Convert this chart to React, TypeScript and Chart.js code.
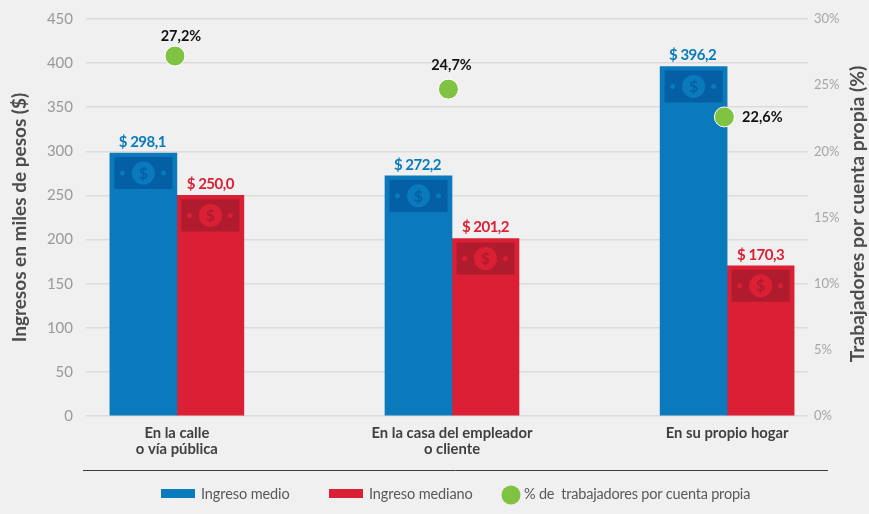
import React, { useEffect, useRef } from "react";
import { Chart, registerables } from "chart.js";

Chart.register(...registerables);

const FONT = 'Lato, "Roboto", sans-serif';

const categories: string[][] = [["En la calle", "o vía pública"], ["En la casa del empleador", "o cliente"], ["En su propio hogar"]];
const positions = [1, 2, 3];
const ingresoMedio = [298.1, 272.2, 396.2];
const ingresoMediano = [250.0, 201.2, 170.3];
const cuentaPropia = [27.2, 24.7, 22.6];
const pointPositions = [0.993, 1.987, 2.99];
const leftTicks = [0, 50, 100, 150, 200, 250, 300, 350, 400, 450];

const BLUE = "#0a7abd";
const RED = "#db1f35";
const GREEN = "#80c241";
const fmt = (v: number) => v.toFixed(1).replace(".", ",");

const moneyIcons = {
  id: "moneyIcons",
  afterDatasetDraw(chart: any, args: any) {
    if (args.index > 1) return;
    const { ctx } = chart;
    const dark = args.index === 0 ? "#045fa5" : "#b01c2e";
    const base = args.index === 0 ? BLUE : RED;
    args.meta.data.forEach((bar: any) => {
      const cx = bar.x;
      const top = bar.y + 4;
      const cy = top + 16;
      ctx.save();
      ctx.fillStyle = dark;
      ctx.fillRect(cx - 29, top, 58, 32);
      ctx.fillStyle = base;
      ctx.beginPath();
      ctx.arc(cx, cy, 11.5, 0, Math.PI * 2);
      ctx.fill();
      [-21, 20].forEach((dx) => {
        ctx.beginPath();
        ctx.arc(cx + dx, cy, 2.5, 0, Math.PI * 2);
        ctx.fill();
      });
      ctx.fillStyle = dark;
      ctx.font = `bold 16px ${FONT}`;
      ctx.textAlign = "center";
      ctx.textBaseline = "middle";
      ctx.fillText("$", cx, cy + 0.5);
      ctx.restore();
    });
  },
};

const annotations = {
  id: "annotations",
  afterDraw(chart: any) {
    const { ctx } = chart;
    ctx.save();
    ctx.textBaseline = "middle";
    ctx.textAlign = "center";
    ctx.font = `bold 15px ${FONT}`;
    (ctx as any).letterSpacing = "-0.5px";
    [0, 1].forEach((di) => {
      ctx.fillStyle = di === 0 ? BLUE : RED;
      chart.getDatasetMeta(di).data.forEach((bar: any, i: number) => {
        const v = (di === 0 ? ingresoMedio : ingresoMediano)[i];
        ctx.fillText(`$ ${fmt(v)}`, bar.x - (di === 0 ? 1 : 0), bar.y - 11);
      });
    });
    (ctx as any).letterSpacing = "0px";
    ctx.fillStyle = "#111111";
    ctx.font = `bold 14.5px ${FONT}`;
    chart.getDatasetMeta(2).data.forEach((p: any, i: number) => {
      const t = `${fmt(cuentaPropia[i])}%`;
      if (i === 2) ctx.fillText(t, p.x + 38, p.y);
      else ctx.fillText(t, p.x + (i === 0 ? 6 : 3), p.y - (i === 0 ? 20 : 24));
    });

    // right axis title
    ctx.save();
    ctx.translate(858, 214);
    ctx.rotate(-Math.PI / 2);
    ctx.fillStyle = "#4d4d4d";
    ctx.font = `bold 19.3px ${FONT}`;
    ctx.fillText("Trabajadores por cuenta propia (%)", 0, 0);
    ctx.restore();

    // rule above legend
    ctx.strokeStyle = "#3c3c3c";
    ctx.lineWidth = 1;
    ctx.beginPath();
    ctx.moveTo(83, 470.5);
    ctx.lineTo(828, 470.5);
    ctx.stroke();

    // legend
    const ds = chart.data.datasets;
    ctx.textAlign = "left";
    ctx.font = `14.5px ${FONT}`;
    ctx.fillStyle = "#595959";
    (ctx as any).letterSpacing = "-0.1px";
    ctx.fillText(ds[0].label, 201, 494);
    ctx.fillText(ds[1].label, 369, 494);
    (ctx as any).letterSpacing = "-0.2px";
    ctx.fillText(ds[2].label, 524, 494);
    (ctx as any).letterSpacing = "0px";
    ctx.fillStyle = BLUE;
    ctx.fillRect(161, 489, 34, 9);
    ctx.fillStyle = RED;
    ctx.fillRect(329, 489, 34, 9);
    ctx.fillStyle = GREEN;
    ctx.beginPath();
    ctx.arc(511, 495, 9.5, 0, Math.PI * 2);
    ctx.fill();
    ctx.restore();
  },
};

const background = {
  id: "background",
  beforeDraw(chart: any) {
    chart.ctx.save();
    chart.ctx.fillStyle = "#f0f0f0";
    chart.ctx.fillRect(0, 0, chart.width, chart.height);
    chart.ctx.restore();
  },
};

const noPad = (s: any) => {
  s.paddingTop = 0;
  s.paddingBottom = 0;
  s.paddingLeft = 0;
  s.paddingRight = 0;
};

export default function App() {
  const ref = useRef<HTMLCanvasElement>(null);
  useEffect(() => {
    const chart = new Chart(ref.current!, {
      type: "bar",
      data: {
        datasets: [
          { label: "Ingreso medio", data: positions.map((x, i) => ({ x, y: ingresoMedio[i] })), backgroundColor: BLUE, barThickness: 67, order: 2 },
          { label: "Ingreso mediano", data: positions.map((x, i) => ({ x, y: ingresoMediano[i] })), backgroundColor: RED, barThickness: 67, order: 2 },
          {
            type: "line",
            label: "% de  trabajadores por cuenta propia",
            data: pointPositions.map((x, i) => ({ x, y: cuentaPropia[i] })),
            yAxisID: "y1",
            showLine: false,
            pointRadius: 10,
            pointBackgroundColor: GREEN,
            pointBorderColor: "#ffffff",
            pointBorderWidth: 1,
            order: 1,
          },
        ] as any,
      },
      options: {
        responsive: false,
        animation: false,
        layout: { padding: { top: 19, left: 0, right: 0, bottom: 0 } },
        plugins: { legend: { display: false }, tooltip: { enabled: false } },
        scales: {
          x: {
            type: "linear",
            offset: false,
            min: 0.6697,
            max: 3.294,
            afterFit: (s: any) => { s.height = 98; noPad(s); },
            grid: { display: false, offset: false },
            border: { display: false },
            afterBuildTicks: (s: any) => { s.ticks = positions.map((value) => ({ value })); },
            ticks: {
              maxRotation: 0,
              autoSkip: false,
              padding: 1,
              color: "#404040",
              font: { family: FONT, size: 14.8, weight: "bold", lineHeight: 1.1 },
              callback: (v: any) => categories[Number(v) - 1] ?? "",
            },
          },
          y: {
            min: 0,
            max: 450,
            afterFit: (s: any) => { s.width = 86; noPad(s); },
            afterBuildTicks: (s: any) => { s.ticks = leftTicks.map((value) => ({ value })); },
            grid: { color: "#dbdbdb", lineWidth: 1.5, drawTicks: false },
            border: { display: false },
            ticks: { padding: 13, color: "#999999", font: { family: FONT, size: 15 } },
            title: { display: true, text: "Ingresos en miles de pesos ($)", color: "#4d4d4d", font: { family: FONT, size: 19, weight: "bold", lineHeight: 1 }, padding: { top: 10, bottom: 0 } },
          },
          y1: {
            position: "right",
            min: 0,
            max: 30,
            afterFit: (s: any) => { s.width = 61; noPad(s); },
            grid: { display: false, drawTicks: false },
            border: { display: false },
            ticks: { stepSize: 5, padding: 6, color: "#a6a6a6", font: { family: FONT, size: 13 }, callback: (v: any) => `${v}%` },
          },
        },
      } as any,
      plugins: [background, moneyIcons, annotations],
    });
    return () => chart.destroy();
  }, []);
  return (
    <div style={{ position: "fixed", left: 0, top: 0, width: 869, height: 514 }}>
      <canvas ref={ref} width={869} height={514} style={{ display: "block" }} />
    </div>
  );
}
